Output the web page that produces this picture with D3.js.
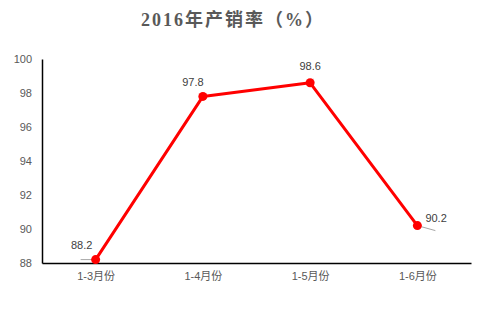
<!DOCTYPE html>
<html>
<head>
<meta charset="utf-8">
<script src="https://cdn.jsdelivr.net/npm/d3@7"></script>
<style>
  body { margin: 0; background: #fff; }
  svg text { font-family: "Liberation Sans", "Noto Sans CJK SC", sans-serif; }
</style>
</head>
<body>
<svg id="chart"></svg>
<script>
// data
var categories = ['1-3月份', '1-4月份', '1-5月份', '1-6月份'];
var rates = [88.2, 97.8, 98.6, 90.2];
var yTicks = [88, 90, 92, 94, 96, 98, 100];
var title = '2016年产销率（%）';

var svgWidth = 499, svgHeight = 319;
var plotLeft = 42, plotRight = 471, plotTop = 59, plotBottom = 263;

var svg = d3.select('#chart')
  .attr('width', svgWidth)
  .attr('height', svgHeight);

var xScale = d3.scalePoint()
  .domain(categories)
  .range([plotLeft, plotRight])
  .padding(0.5);

var yScale = d3.scaleLinear()
  .domain([88, 100])
  .range([plotBottom, plotTop]);

// title
svg.append('text')
  .attr('x', 233)
  .attr('y', 26)
  .attr('text-anchor', 'middle')
  .attr('fill', '#595959')
  .style('font-family', '"Liberation Serif", "Noto Sans CJK SC", serif')
  .style('font-weight', 'bold')
  .style('font-size', '18px')
  .style('letter-spacing', '2px')
  .text(title);

// y axis
var yAxis = d3.axisLeft(yScale).tickValues(yTicks).tickSize(0).tickPadding(10);
var gy = svg.append('g')
  .attr('transform', 'translate(' + plotLeft + ',0)')
  .call(yAxis);
gy.select('.domain').attr('stroke', '#000').attr('stroke-width', 1.5);
gy.selectAll('text').attr('fill', '#595959').style('font-size', '11px');

// x axis
var xAxis = d3.axisBottom(xScale).tickSize(0).tickPadding(9);
var gx = svg.append('g')
  .attr('transform', 'translate(0,' + plotBottom + ')')
  .call(xAxis);
gx.select('.domain').attr('stroke', '#000').attr('stroke-width', 1.5);
gx.selectAll('text').attr('fill', '#595959').style('font-size', '11px');

// leader lines for labels
var labelOffsets = [[-14, -11, -15, 0], [-10, -10, -4, -2], [0, -13, 3, -4], [18, -4, 18, 5]];
svg.selectAll('.leader')
  .data(rates)
  .enter()
  .append('line')
  .attr('class', 'leader')
  .attr('stroke', '#a6a6a6')
  .attr('stroke-width', 1)
  .attr('x1', function(d, i) { return xScale(categories[i]); })
  .attr('y1', function(d) { return yScale(d); })
  .attr('x2', function(d, i) { return xScale(categories[i]) + labelOffsets[i][2]; })
  .attr('y2', function(d, i) { return yScale(d) + labelOffsets[i][3]; });

// line
var line = d3.line()
  .x(function(d, i) { return xScale(categories[i]); })
  .y(function(d) { return yScale(d); });

svg.append('path')
  .datum(rates)
  .attr('fill', 'none')
  .attr('stroke', '#ff0000')
  .attr('stroke-width', 3)
  .attr('stroke-linejoin', 'round')
  .attr('d', line);

svg.selectAll('.dot')
  .data(rates)
  .enter()
  .append('circle')
  .attr('class', 'dot')
  .attr('fill', '#ff0000')
  .attr('r', 4.5)
  .attr('cx', function(d, i) { return xScale(categories[i]); })
  .attr('cy', function(d) { return yScale(d); });

// value labels
svg.selectAll('.val')
  .data(rates)
  .enter()
  .append('text')
  .attr('class', 'val')
  .attr('fill', '#404040')
  .style('font-size', '11px')
  .attr('text-anchor', function(d, i) { return i === 3 ? 'start' : 'middle'; })
  .attr('x', function(d, i) { return xScale(categories[i]) + (i === 3 ? 8 : labelOffsets[i][0]); })
  .attr('y', function(d, i) { return yScale(d) + labelOffsets[i][1]; })
  .text(function(d) { return d.toFixed(1); });
</script>
</body>
</html>
